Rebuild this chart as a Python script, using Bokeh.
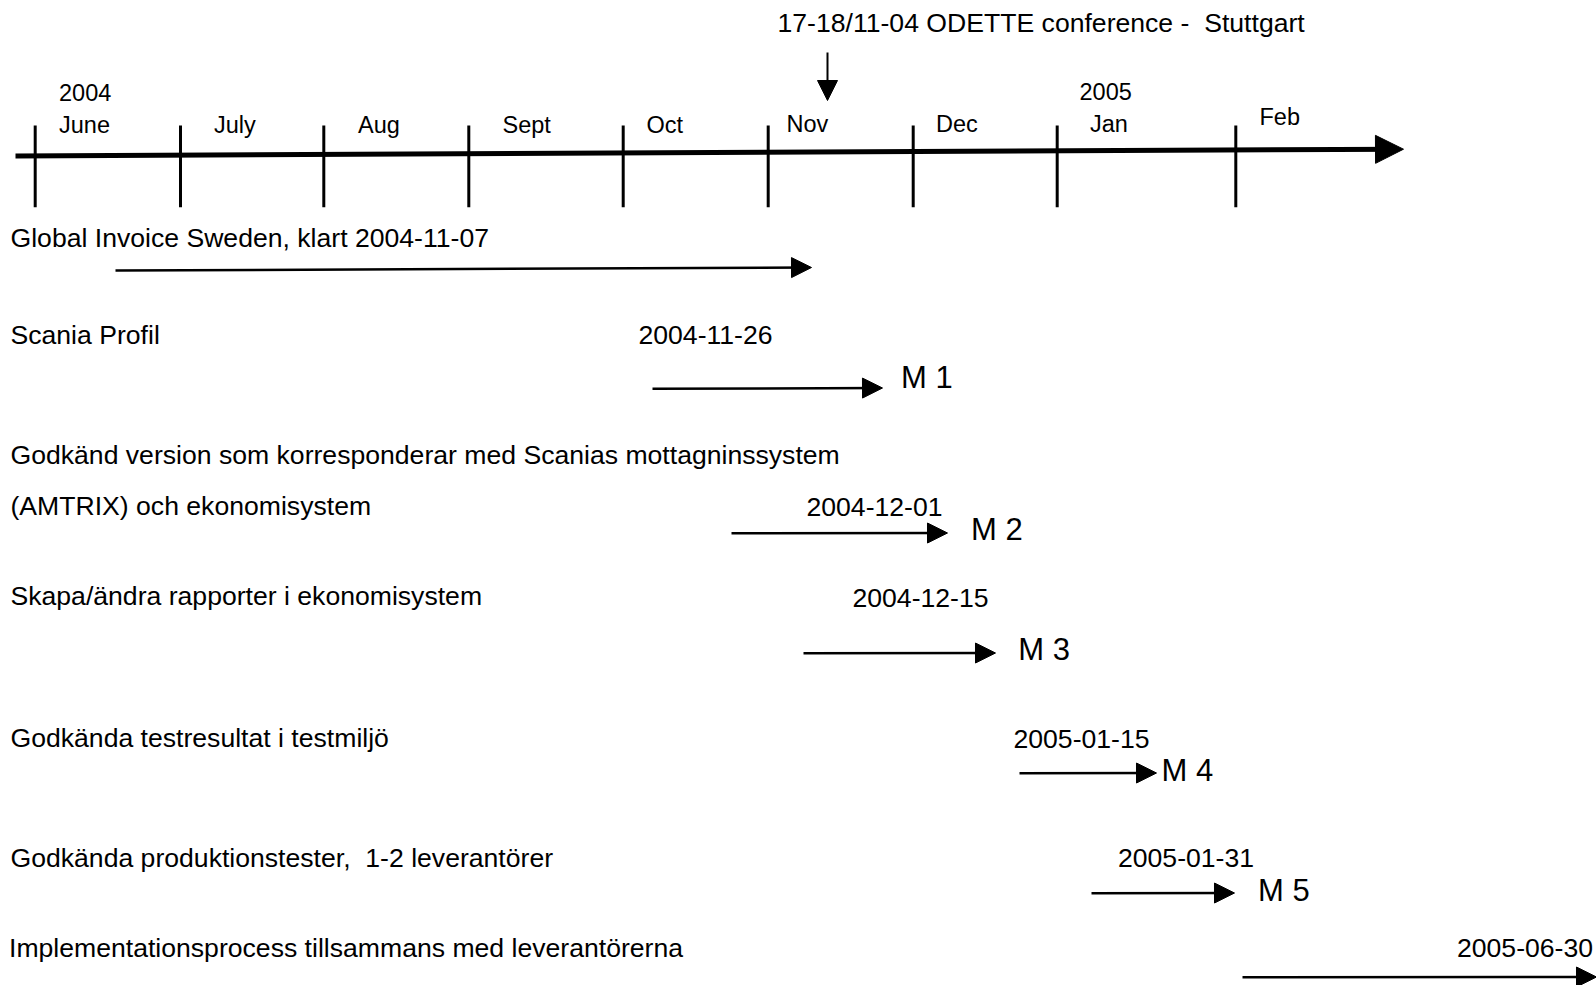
from bokeh.plotting import figure
from bokeh.models import Range1d, ColumnDataSource, Arrow, NormalHead
from bokeh.core.properties import value
from bokeh.embed import file_html
from bokeh.resources import INLINE

# ---------------- data ----------------
event_label = "17-18/11-04 ODETTE conference - \u00a0Stuttgart"
years = ["2004", "2005"]
months = ["June", "July", "Aug", "Sept", "Oct", "Nov", "Dec", "Jan", "Feb"]
tasks = [
    "Global Invoice Sweden, klart 2004-11-07",
    "Scania Profil",
    "Godkänd version som korresponderar med Scanias mottagninssystem",
    "(AMTRIX) och ekonomisystem",
    "Skapa/ändra rapporter i ekonomisystem",
    "Godkända testresultat i testmiljö",
    "Godkända produktionstester, \u00a01-2 leverantörer",
    "Implementationsprocess tillsammans med leverantörerna",
]
deadlines = ["2004-11-26", "2004-12-01", "2004-12-15", "2005-01-15", "2005-01-31", "2005-06-30"]
milestones = ["M 1", "M 2", "M 3", "M 4", "M 5"]

# ---------------- layout (diagram coordinates, y = text centre) ----------------
tick_x = [34.7, 180, 323.3, 468.3, 622.7, 767.7, 912.7, 1056.7, 1235.3]
month_lx = [58.5, 213.5, 357.5, 502, 646, 786, 935.5, 1089.5, 1259]
month_cy = [124, 124, 124, 124, 124, 123.5, 123.5, 123.5, 116.5]
year_lx = [58.5, 1079]
year_cy = [92, 91]
task_lx = [10, 10, 10, 10, 10, 10, 10, 8.5]
task_cy = [237, 334, 454, 505.5, 595.5, 737.5, 857.5, 947]
date_lx = [638, 806, 852, 1013, 1117.5, 1456.5]
date_cy = [334.5, 506, 597.5, 738, 857.5, 947]
ms_lx = [900.5, 970.5, 1017.7, 1161, 1257.5]
ms_cy = [377, 528.5, 648.5, 769.5, 889.5]
arr_x0 = [115, 652, 731, 803, 1019, 1091, 1242]
arr_y0 = [270, 388.3, 532.7, 652.7, 772.7, 892.7, 976.7]
arr_x1 = [811, 882, 947, 995, 1156, 1234, 1596]
arr_y1 = [267, 387.5, 532.5, 652.5, 772.5, 892.5, 976.5]

FONT = value("Liberation Sans")

p = figure(width=1596, height=985, x_range=Range1d(0, 1596), y_range=Range1d(985, 0),
           output_backend="svg", toolbar_location=None, min_border=0,
           x_axis_type=None, y_axis_type=None)
p.grid.visible = False
p.outline_line_color = None
p.background_fill_color = "white"
p.border_fill_color = "white"

# main timeline axis
p.add_layout(Arrow(x_start=15, y_start=155.5, x_end=1403, y_end=148.7,
                   line_width=5, line_color="black",
                   end=NormalHead(size=28, fill_color="black", line_color="black", line_width=1)))
# month ticks
p.segment(x0=tick_x, y0=[125] * len(tick_x), x1=tick_x, y1=[206.7] * len(tick_x),
          line_width=3, line_color="black")

# ODETTE conference marker
p.add_layout(Arrow(x_start=827, y_start=52, x_end=827, y_end=100,
                   line_width=2, line_color="black",
                   end=NormalHead(size=20, fill_color="black", line_color="black", line_width=1)))

# task arrows
arr_src = ColumnDataSource(dict(x0=arr_x0, y0=arr_y0, x1=arr_x1, y1=arr_y1))
p.add_layout(Arrow(x_start="x0", y_start="y0", x_end="x1", y_end="y1", source=arr_src,
                   line_width=2.5, line_color="black",
                   end=NormalHead(size=20, fill_color="black", line_color="black", line_width=1)))

def texts(xs, ys, labels, size):
    src = ColumnDataSource(dict(x=xs, y=ys, t=labels))
    p.text(x="x", y="y", text="t", source=src, text_font=FONT,
           text_font_size=value(size), text_color="black",
           text_align="left", text_baseline="alphabetic")

texts([777], [22], [event_label], "26.6px")
texts(year_lx, year_cy, years, "23.5px")
texts(month_lx, month_cy, months, "23.5px")
texts(task_lx, task_cy, tasks, "26.6px")
texts(date_lx, date_cy, deadlines, "26.6px")
texts(ms_lx, ms_cy, milestones, "31px")

open("out.html", "w").write(file_html(p, INLINE))
